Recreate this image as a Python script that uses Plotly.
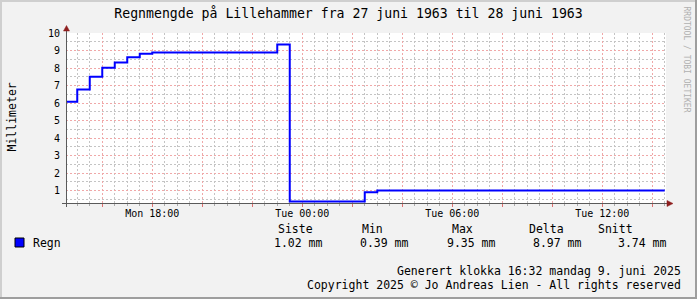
import plotly.graph_objects as go
import pandas as pd

# ---------------- data ----------------
step_times = ["2025-06-09 14:30", "2025-06-09 15:00", "2025-06-09 15:30", "2025-06-09 16:00",
              "2025-06-09 16:30", "2025-06-09 17:00", "2025-06-09 17:30", "2025-06-09 18:00",
              "2025-06-09 23:00", "2025-06-09 23:30", "2025-06-10 02:30", "2025-06-10 03:00",
              "2025-06-10 14:30"]
rain_mm = [6.08, 6.77, 7.51, 8.02, 8.31, 8.61, 8.82, 8.89, 9.35, 0.39, 0.92, 1.02, 1.02]

label_ticks = ["2025-06-09 18:00", "2025-06-10 00:00", "2025-06-10 06:00", "2025-06-10 12:00"]
label_text = ["Mon 18:00", "Tue 00:00", "Tue 06:00", "Tue 12:00"]

y_ticks = [1, 2, 3, 4, 5, 6, 7, 8, 9, 10]

stat_names = ["Siste", "Min", "Max", "Delta", "Snitt"]
stat_values = ["1.02 mm", "0.39 mm", "9.35 mm", "8.97 mm", "3.74 mm"]
series_name = "Regn"

title_text = "Regnmengde på Lillehammer fra 27 juni 1963 til 28 juni 1963"
y_title = "Millimeter"
footer_lines = ["Generert klokka 16:32 mandag 9. juni 2025",
                "Copyright 2025 © Jo Andreas Lien - All rights reserved"]
watermark = "RRDTOOL / TOBI OETIKER"

x_range = ["2025-06-09 14:33", "2025-06-10 14:33"]
y_range = [0.3, 10]

# ---------------- layout helpers ----------------
W, H = 697, 299
L, R, T, B = 66, 666, 33, 203
FONT = "DejaVu Sans Mono"


def px(x):
    return (x - L) / (R - L)


def py(y):
    return (B - y) / (B - T)


grid_ticks = list(pd.date_range("2025-06-09 16:00", "2025-06-10 14:00", freq="2h"))
label_map = {pd.Timestamp(t): s for t, s in zip(label_ticks, label_text)}
grid_text = [label_map.get(t, "") for t in grid_ticks]

fig = go.Figure()
fig.add_trace(go.Scatter(
    x=pd.to_datetime(step_times), y=rain_mm, mode="lines",
    line=dict(color="#0000FF", width=2, shape="hv"),
    name=series_name, showlegend=False, hoverinfo="skip"))

MINOR_GRID = "#C4C4C4"
MAJOR_GRID = "#F0A8A8"

fig.update_layout(
    width=W, height=H,
    margin=dict(l=L, r=W - R, t=T, b=H - B, pad=0),
    paper_bgcolor="#F2F2F2", plot_bgcolor="#FFFFFF",
    font=dict(family=FONT, color="#000000", size=10),
    title=dict(text=title_text, x=348.5 / W, xref="container", xanchor="center",
               y=1 - 13.5 / H, yref="container", yanchor="middle",
               font=dict(family=FONT, size=13.2, color="#000000")),
    xaxis=dict(
        type="date", range=x_range,
        tickmode="array", tickvals=grid_ticks, ticktext=grid_text,
        showgrid=True, gridcolor=MAJOR_GRID, griddash="2px,2px", gridwidth=1,
        ticks="outside", ticklen=3, tickcolor="#E07070", tickwidth=1,
        tickfont=dict(family=FONT, size=10),
        ticklabelstandoff=-2,
        minor=dict(dtick=1800000, tick0="2025-06-09 00:00", showgrid=True,
                   gridcolor=MINOR_GRID, griddash="2px,2px", gridwidth=1,
                   ticks="outside", ticklen=2, tickcolor="#AAAAAA"),
        showline=False, zeroline=False, fixedrange=True,
    ),
    yaxis=dict(
        range=y_range, tickmode="array", tickvals=y_ticks,
        ticktext=[str(v) for v in y_ticks],
        showgrid=True, gridcolor=MAJOR_GRID, griddash="2px,2px", gridwidth=1,
        ticks="", tickfont=dict(family=FONT, size=10),
        ticklabelstandoff=5,
        minor=dict(dtick=0.5, tick0=0, showgrid=True, gridcolor=MINOR_GRID,
                   griddash="2px,2px", gridwidth=1),
        showline=False, zeroline=False, fixedrange=True,
    ),
    showlegend=False,
)

shapes = []
AXIS = "#5A5A5A"
ARROW = "#8E1F1F"
# axis lines
shapes.append(dict(type="line", xref="paper", yref="paper", x0=px(62), x1=px(667),
                   y0=py(203.5), y1=py(203.5), line=dict(color=AXIS, width=1), layer="above"))
shapes.append(dict(type="line", xref="paper", yref="paper", x0=px(66.5), x1=px(66.5),
                   y0=py(207), y1=py(30), line=dict(color=AXIS, width=1), layer="above"))
# arrows
shapes.append(dict(type="path", xref="paper", yref="paper",
                   path=f"M {px(63.5)} {py(31)} L {px(69.5)} {py(31)} L {px(66.5)} {py(25.5)} Z",
                   fillcolor=ARROW, line=dict(color=ARROW, width=0.5), layer="above"))
shapes.append(dict(type="path", xref="paper", yref="paper",
                   path=f"M {px(667)} {py(200.5)} L {px(667)} {py(206.5)} L {px(673)} {py(203.5)} Z",
                   fillcolor=ARROW, line=dict(color=ARROW, width=0.5), layer="above"))
# legend colour box
shapes.append(dict(type="rect", xref="paper", yref="paper", x0=px(15), x1=px(24),
                   y0=py(247), y1=py(238), fillcolor="#0000FF",
                   line=dict(color="#000000", width=1)))
# frame (3D shading)
shapes.append(dict(type="rect", xref="paper", yref="paper", x0=px(0), x1=px(2),
                   y0=py(0), y1=py(H), fillcolor="#CFCFCF", line=dict(width=0)))
shapes.append(dict(type="rect", xref="paper", yref="paper", x0=px(0), x1=px(W),
                   y0=py(0), y1=py(2), fillcolor="#CFCFCF", line=dict(width=0)))
shapes.append(dict(type="rect", xref="paper", yref="paper", x0=px(W - 2), x1=px(W),
                   y0=py(0), y1=py(H), fillcolor="#9E9E9E", line=dict(width=0)))
shapes.append(dict(type="rect", xref="paper", yref="paper", x0=px(0), x1=px(W),
                   y0=py(H - 2), y1=py(H), fillcolor="#9E9E9E", line=dict(width=0)))
fig.update_layout(shapes=shapes)

ann = []


def text(x, y, s, anchor="left", size=11.5, color="#000000", angle=0):
    ann.append(dict(x=px(x), y=py(y), xref="paper", yref="paper", text=s, showarrow=False,
                    xanchor=anchor, yanchor="middle", textangle=angle,
                    font=dict(family=FONT, size=size, color=color)))


text(11, 117.5, y_title, anchor="center", size=11.5, angle=-90)
text(686.5, 59, watermark, anchor="center", size=8, color="#B0B0B0", angle=90)
text(30.5, 242.5, series_name)
header_left = [276, 360, 450, 527, 596]
value_right = [325, 411, 498, 584, 669]
for name, x in zip(stat_names, header_left):
    text(x, 229, name)
for val, x in zip(stat_values, value_right):
    text(x, 242.5, val, anchor="right")
text(683.5, 271, footer_lines[0], anchor="right")
text(683.5, 285, footer_lines[1], anchor="right")
fig.update_layout(annotations=ann)

fig.write_html("out.html")
